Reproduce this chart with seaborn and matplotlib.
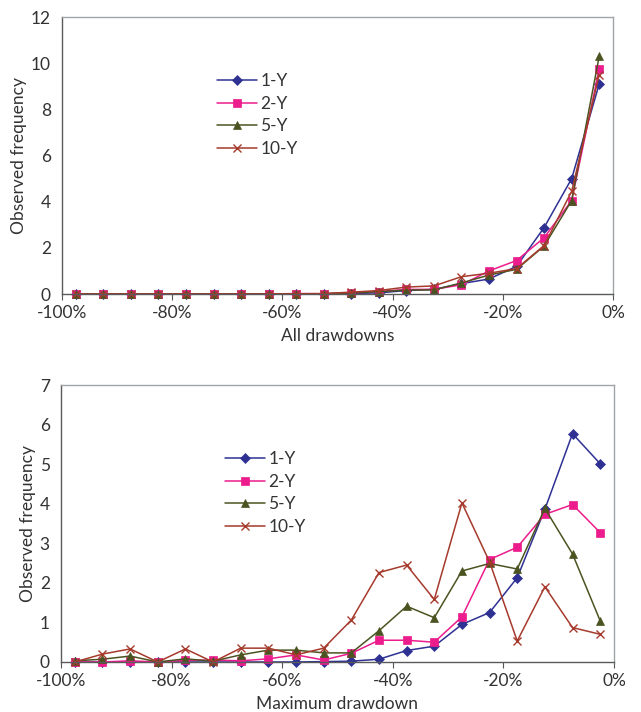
import numpy as np
import pandas as pd
import matplotlib
matplotlib.use("Agg")
import matplotlib.pyplot as plt
import seaborn as sns

# ---- data ----
drawdown = [-97.5, -92.5, -87.5, -82.5, -77.5, -72.5, -67.5, -62.5, -57.5, -52.5,
            -47.5, -42.5, -37.5, -32.5, -27.5, -22.5, -17.5, -12.5, -7.5, -2.5]
series_names = ["1-Y", "2-Y", "5-Y", "10-Y"]

# All drawdowns
all_1y = [0, 0, 0, 0, 0, 0, 0, 0, 0, 0.01, 0.02, 0.05, 0.15, 0.2, 0.45, 0.65, 1.2, 2.88, 5.0, 9.1]
all_2y = [0, 0, 0, 0, 0, 0, 0, 0, 0.02, 0.01, 0.05, 0.1, 0.2, 0.2, 0.4, 1.0, 1.45, 2.44, 4.05, 9.75]
all_5y = [0, 0, 0, 0, 0, 0, 0, 0, 0.01, 0.01, 0.05, 0.1, 0.17, 0.18, 0.48, 0.82, 1.07, 2.08, 4.05, 10.3]
all_10y = [0, 0, 0, 0, 0, 0, 0, 0, 0.01, 0.02, 0.08, 0.15, 0.3, 0.35, 0.75, 0.9, 1.1, 2.1, 4.45, 9.5]

# Maximum drawdown
max_1y = [0, 0, 0, 0, 0, 0, 0, 0, 0, 0.01, 0.02, 0.07, 0.29, 0.40, 0.95, 1.25, 2.13, 3.86, 5.77, 5.01]
max_2y = [0, 0, 0.03, 0, 0.04, 0.05, 0.03, 0.08, 0.18, 0.05, 0.22, 0.55, 0.55, 0.50, 1.14, 2.59, 2.90, 3.73, 3.98, 3.27]
max_5y = [0.03, 0.07, 0.15, 0, 0.08, 0.02, 0.18, 0.3, 0.3, 0.23, 0.23, 0.79, 1.41, 1.12, 2.30, 2.49, 2.35, 3.88, 2.73, 1.04]
max_10y = [0, 0.2, 0.33, 0, 0.33, 0, 0.35, 0.35, 0.18, 0.35, 1.06, 2.26, 2.45, 1.58, 4.02, 2.53, 0.53, 1.90, 0.87, 0.70]

x_ticks = [-100, -80, -60, -40, -20, 0]
x_ticklabels = ["-100%", "-80%", "-60%", "-40%", "-20%", "0%"]
top_yticks = [0, 2, 4, 6, 8, 10, 12]
bot_yticks = [0, 1, 2, 3, 4, 5, 6, 7]

colors = {"1-Y": "#2E3192", "2-Y": "#EC1C8C", "5-Y": "#4B5320", "10-Y": "#A63A2C"}
markers = {"1-Y": "D", "2-Y": "s", "5-Y": "^", "10-Y": "x"}
msizes = {"1-Y": 4.6, "2-Y": 5.6, "5-Y": 6.2, "10-Y": 6.0}

sns.set_theme(style="white")
plt.rcParams["font.family"] = ["Lato", "DejaVu Sans"]
text_color = "#333333"

fig = plt.figure(figsize=(6.41, 7.12), dpi=100)
W, H = 641, 712


def make_ax(left, top, right, bottom):
    return fig.add_axes([left / W, 1 - bottom / H, (right - left) / W, (bottom - top) / H])


ax1 = make_ax(62, 17, 613, 294)
ax2 = make_ax(61, 385, 614, 662)

panels = [
    (ax1, [all_1y, all_2y, all_5y, all_10y], top_yticks, "All drawdowns", (217, 73)),
    (ax2, [max_1y, max_2y, max_5y, max_10y], bot_yticks, "Maximum drawdown", (225, 451)),
]

for ax, vals, yticks, xlabel, leg_pos in panels:
    for name, v in zip(series_names, vals):
        df = pd.DataFrame({"x": drawdown, "y": v})
        c = colors[name]
        sns.lineplot(data=df, x="x", y="y", ax=ax, color=c, marker=markers[name],
                     markersize=msizes[name], markeredgecolor=c, markerfacecolor=c,
                     markeredgewidth=1.0 if name == "10-Y" else 0.5,
                     linewidth=1.1, label=name, clip_on=False)
    ax.set_xlim(-100, 0)
    ax.set_ylim(yticks[0], yticks[-1])
    ax.set_xticks(x_ticks)
    ax.set_xticklabels(x_ticklabels)
    ax.set_yticks(yticks)
    ax.set_yticklabels([str(t) for t in yticks])
    ax.tick_params(axis="x", length=4, width=0.8, color="#555555", pad=4,
                   labelsize=12.5, labelcolor=text_color, direction="out", bottom=True)
    ax.tick_params(axis="y", length=0, pad=8, labelsize=12.5, labelcolor=text_color)
    ax.set_xlabel(xlabel, fontsize=12.5, color=text_color, labelpad=5)
    ax.set_ylabel("Observed frequency", fontsize=12.5, color=text_color, labelpad=3)
    for s in ["left", "bottom"]:
        ax.spines[s].set_color("#5a5a5a")
        ax.spines[s].set_linewidth(1.0)
    for s in ["top", "right"]:
        ax.spines[s].set_color("#a0a4a8")
        ax.spines[s].set_linewidth(1.0)
    ax.grid(False)
    handles, labels = ax.get_legend_handles_labels()
    leg = ax.legend(handles, labels, loc="upper left",
                    bbox_to_anchor=(leg_pos[0] / W, 1 - leg_pos[1] / H),
                    bbox_transform=fig.transFigure, frameon=False,
                    fontsize=12.5, handlelength=2.3, handletextpad=0.2,
                    labelspacing=0.38, borderpad=0, borderaxespad=0)
    for t in leg.get_texts():
        t.set_color(text_color)

fig.savefig("out.png", dpi=100)
